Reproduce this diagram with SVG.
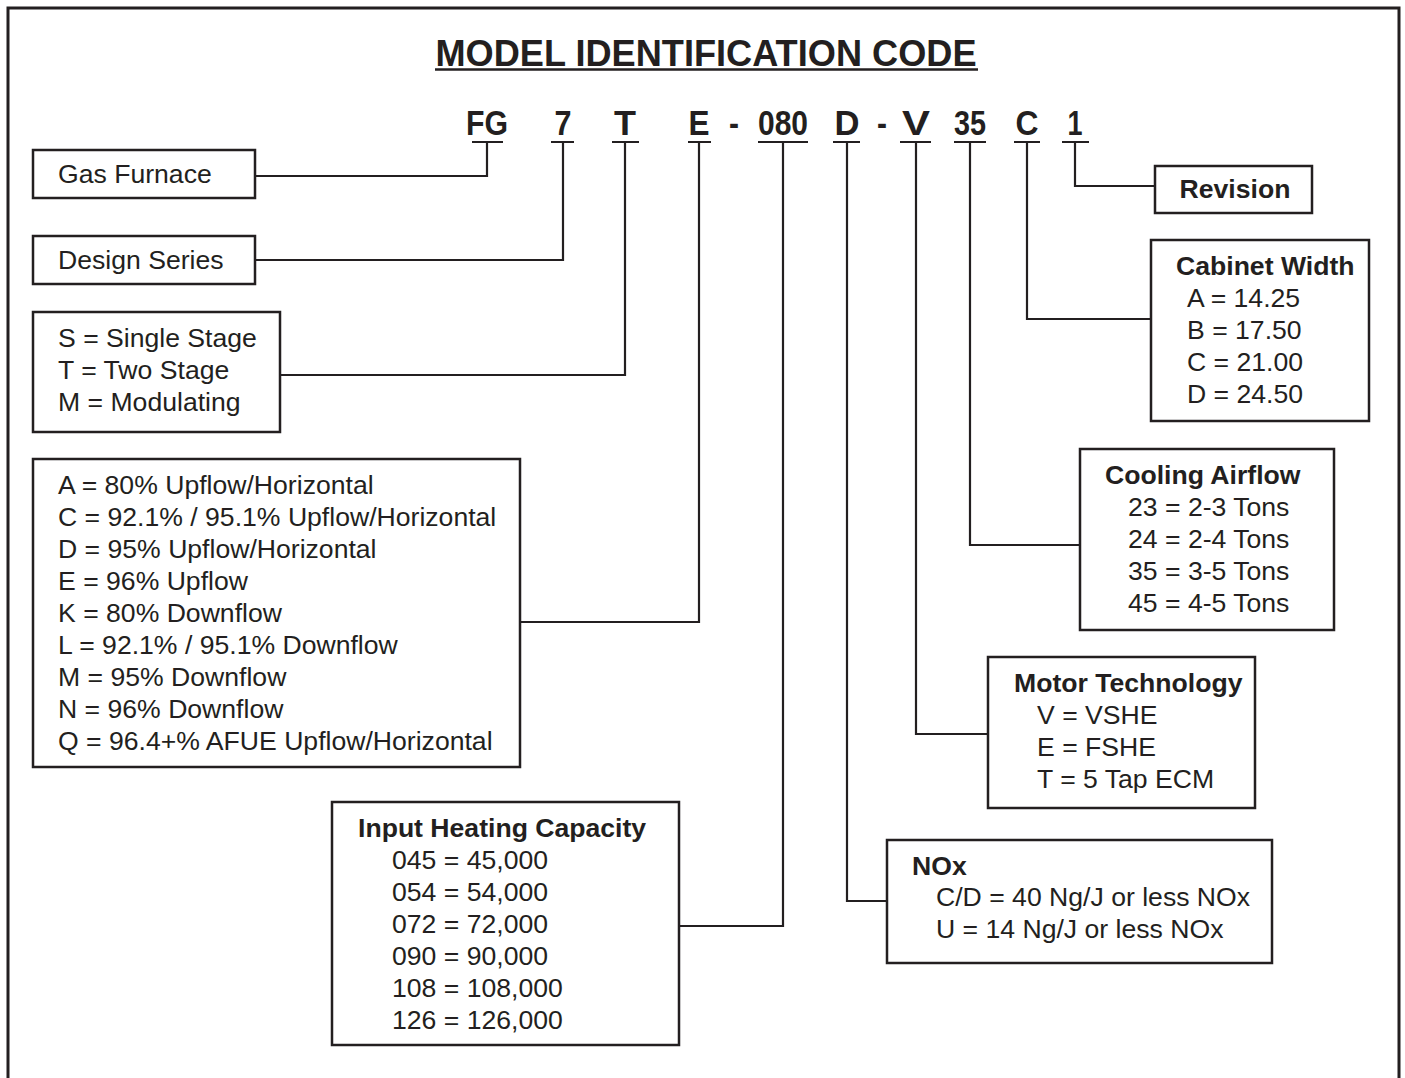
<svg xmlns="http://www.w3.org/2000/svg" width="1405" height="1078" viewBox="0 0 1405 1078">
  <style>
    .frame { fill: none; stroke: #231f20; stroke-width: 3; }
    .box { fill: #ffffff; stroke: #231f20; stroke-width: 2.5; }
    .wire { fill: none; stroke: #231f20; stroke-width: 2.2; }
    .txt { font-family: "Liberation Sans", Arial, Helvetica, sans-serif; font-size: 26.6px; fill: #231f20; }
    .bold { font-weight: bold; }
    .title { font-family: "Liberation Sans", Arial, Helvetica, sans-serif; font-size: 36px; font-weight: bold; fill: #231f20; }
    .code { font-family: "Liberation Sans", Arial, Helvetica, sans-serif; font-size: 35px; font-weight: bold; fill: #231f20; text-anchor: middle; }
  </style>

  <rect width="1405" height="1078" fill="#ffffff"/>

  <!-- outer frame, open at the bottom edge -->
  <path class="frame" d="M8,1078 V8 H1399 V1078"/>

  <!-- heading -->
  <g id="heading">
    <text class="title" x="706" y="66" text-anchor="middle" textLength="541" lengthAdjust="spacingAndGlyphs">MODEL IDENTIFICATION CODE</text>
    <line x1="435" y1="69.5" x2="978" y2="69.5" stroke="#231f20" stroke-width="2.5"/>
  </g>

  <!-- model code characters -->
  <g id="code">
    <text class="code" x="487" y="135" textLength="42" lengthAdjust="spacingAndGlyphs">FG</text>
    <text class="code" x="563" y="135" textLength="17" lengthAdjust="spacingAndGlyphs">7</text>
    <text class="code" x="625" y="135" textLength="22" lengthAdjust="spacingAndGlyphs">T</text>
    <text class="code" x="699" y="135" textLength="21" lengthAdjust="spacingAndGlyphs">E</text>
    <text class="code" x="734" y="135" textLength="10" lengthAdjust="spacingAndGlyphs">-</text>
    <text class="code" x="783" y="135" textLength="50" lengthAdjust="spacingAndGlyphs">080</text>
    <text class="code" x="847" y="135" textLength="25" lengthAdjust="spacingAndGlyphs">D</text>
    <text class="code" x="882" y="135" textLength="10" lengthAdjust="spacingAndGlyphs">-</text>
    <text class="code" x="916" y="135" textLength="28" lengthAdjust="spacingAndGlyphs">V</text>
    <text class="code" x="970" y="135" textLength="32" lengthAdjust="spacingAndGlyphs">35</text>
    <text class="code" x="1027" y="135" textLength="23" lengthAdjust="spacingAndGlyphs">C</text>
    <text class="code" x="1075" y="135" textLength="15" lengthAdjust="spacingAndGlyphs">1</text>
  </g>

  <!-- underlines and leader lines from each code character to its box -->
  <g id="connectors" class="wire">
    <path d="M472,142 H503 M487,142 V176 H255"/>
    <path d="M551,142 H574 M563,142 V260 H255"/>
    <path d="M612,142 H639 M625,142 V375 H280"/>
    <path d="M688,142 H711 M699,142 V622 H520"/>
    <path d="M758,142 H808 M783,142 V926 H679"/>
    <path d="M833,142 H860 M847,142 V901 H887"/>
    <path d="M900,142 H931 M916,142 V734 H988"/>
    <path d="M954,142 H986 M970,142 V545 H1080"/>
    <path d="M1014,142 H1040 M1027,142 V319 H1151"/>
    <path d="M1062,142 H1089 M1075,142 V186 H1155"/>
  </g>

  <g id="gas-furnace">
    <rect class="box" x="33" y="150" width="222" height="48"/>
    <text class="txt" x="58" y="183">Gas Furnace</text>
  </g>

  <g id="design-series">
    <rect class="box" x="33" y="236" width="222" height="48"/>
    <text class="txt" x="58" y="269">Design Series</text>
  </g>

  <g id="stages">
    <rect class="box" x="33" y="312" width="247" height="120"/>
    <text class="txt" x="58" y="347">S = Single Stage</text>
    <text class="txt" x="58" y="379">T = Two Stage</text>
    <text class="txt" x="58" y="411">M = Modulating</text>
  </g>

  <g id="configuration">
    <rect class="box" x="33" y="459" width="487" height="308"/>
    <text class="txt" x="58" y="494">A = 80% Upflow/Horizontal</text>
    <text class="txt" x="58" y="526">C = 92.1% / 95.1% Upflow/Horizontal</text>
    <text class="txt" x="58" y="558">D = 95% Upflow/Horizontal</text>
    <text class="txt" x="58" y="590">E = 96% Upflow</text>
    <text class="txt" x="58" y="622">K = 80% Downflow</text>
    <text class="txt" x="58" y="654">L = 92.1% / 95.1% Downflow</text>
    <text class="txt" x="58" y="686">M = 95% Downflow</text>
    <text class="txt" x="58" y="718">N = 96% Downflow</text>
    <text class="txt" x="58" y="750">Q = 96.4+% AFUE Upflow/Horizontal</text>
  </g>

  <g id="heating-capacity">
    <rect class="box" x="332" y="802" width="347" height="243"/>
    <text class="txt bold" x="358" y="837">Input Heating Capacity</text>
    <text class="txt" x="392" y="869">045 = 45,000</text>
    <text class="txt" x="392" y="901">054 = 54,000</text>
    <text class="txt" x="392" y="933">072 = 72,000</text>
    <text class="txt" x="392" y="965">090 = 90,000</text>
    <text class="txt" x="392" y="997">108 = 108,000</text>
    <text class="txt" x="392" y="1029">126 = 126,000</text>
  </g>

  <g id="nox">
    <rect class="box" x="887" y="840" width="385" height="123"/>
    <text class="txt bold" x="912" y="875">NOx</text>
    <text class="txt" x="936" y="906">C/D = 40 Ng/J or less NOx</text>
    <text class="txt" x="936" y="938">U = 14 Ng/J or less NOx</text>
  </g>

  <g id="motor-technology">
    <rect class="box" x="988" y="657" width="267" height="151"/>
    <text class="txt bold" x="1014" y="692">Motor Technology</text>
    <text class="txt" x="1037" y="724">V = VSHE</text>
    <text class="txt" x="1037" y="756">E = FSHE</text>
    <text class="txt" x="1037" y="788">T = 5 Tap ECM</text>
  </g>

  <g id="cooling-airflow">
    <rect class="box" x="1080" y="449" width="254" height="181"/>
    <text class="txt bold" x="1105" y="484">Cooling Airflow</text>
    <text class="txt" x="1128" y="516">23 = 2-3 Tons</text>
    <text class="txt" x="1128" y="548">24 = 2-4 Tons</text>
    <text class="txt" x="1128" y="580">35 = 3-5 Tons</text>
    <text class="txt" x="1128" y="612">45 = 4-5 Tons</text>
  </g>

  <g id="cabinet-width">
    <rect class="box" x="1151" y="240" width="218" height="181"/>
    <text class="txt bold" x="1176" y="275">Cabinet Width</text>
    <text class="txt" x="1187" y="307">A = 14.25</text>
    <text class="txt" x="1187" y="339">B = 17.50</text>
    <text class="txt" x="1187" y="371">C = 21.00</text>
    <text class="txt" x="1187" y="403">D = 24.50</text>
  </g>

  <g id="revision">
    <rect class="box" x="1155" y="166" width="157" height="47"/>
    <text class="txt bold" x="1235" y="198" text-anchor="middle">Revision</text>
  </g>
</svg>
